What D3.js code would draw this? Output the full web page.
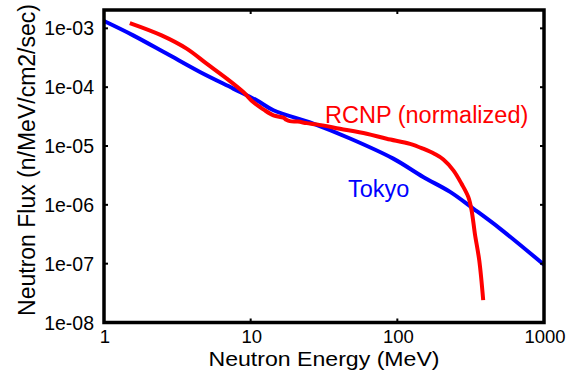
<!DOCTYPE html>
<html>
<head>
  <meta charset="utf-8">
  <title>Neutron Flux</title>
  <style>
    body { margin: 0; background: #fff; }
    text { font-family: "Liberation Sans", Arial, Helvetica, sans-serif; }
  </style>
</head>
<body>
<svg width="579" height="375"></svg>
<script src="https://d3js.org/d3.v7.min.js"></script>
<script>

// energies (MeV) and fluxes (n/MeV/cm2/sec)
var tokyoE = [1.0, 1.58, 2.67, 4.51, 7.61, 11.0, 14.3, 26.7, 47.6, 93.8, 150, 229, 329, 501, 1000];
var tokyoF = [1.33e-3, 7.6e-4, 3.72e-4, 1.81e-4, 9.46e-5, 5.98e-5, 4.05e-5, 2.40e-5, 1.34e-5, 6.1e-6, 2.98e-6, 1.66e-6, 8.65e-7, 3.95e-7, 9.6e-8];

var rcnpE = [1.50, 2.47, 3.66, 5.01, 6.87, 8.91, 10.4, 12.2, 14.3, 16.7, 17.5, 18.5, 21, 24.1, 28.2, 40.6, 61.8, 84.6, 122, 150, 180, 206, 241, 274, 305, 321, 338, 362, 385];
var rcnpF = [1.23e-3, 7.6e-4, 4.52e-4, 2.51e-4, 1.40e-4, 8.27e-5, 5.58e-5, 4.2e-5, 3.31e-5, 3.03e-5, 2.8e-5, 2.65e-5, 2.6e-5, 2.45e-5, 2.33e-5, 1.97e-5, 1.62e-5, 1.33e-5, 1.09e-5, 9.0e-6, 7.3e-6, 5.9e-6, 3.85e-6, 2.28e-6, 1.35e-6, 8.0e-7, 3.2e-7, 1.13e-7, 2.4e-8];

var xTicks = [1, 10, 100, 1000];
var yTicks = [1e-8, 1e-7, 1e-6, 1e-5, 1e-4, 1e-3];
var yTickLabels = ["1e-08", "1e-07", "1e-06", "1e-05", "1e-04", "1e-03"];

var svg = d3.select("svg");

// plot box (x0,y0 top-left, x1,y1 bottom-right)
var x0 = 104, x1 = 544, y0 = 10, y1 = 322.5;

var x = d3.scaleLog().domain([1, 1000]).range([x0, x1]);
var y = d3.scaleLog().domain([1e-8, 2.05e-3]).range([y1, y0]);

var line = d3.line()
    .x(function(d) { return x(d[0]); })
    .y(function(d) { return y(d[1]); })
    .curve(d3.curveCatmullRom);

svg.append("path")
    .datum(d3.zip(tokyoE, tokyoF))
    .attr("d", line)
    .attr("fill", "none")
    .attr("stroke", "#0000ff")
    .attr("stroke-width", 4);

svg.append("path")
    .datum(d3.zip(rcnpE, rcnpF))
    .attr("d", line)
    .attr("fill", "none")
    .attr("stroke", "#ff0000")
    .attr("stroke-width", 4);

// ticks, inward on all four sides
var tickLen = 4;
var ticks = svg.append("g").attr("stroke", "#000").attr("stroke-width", 2);
xTicks.forEach(function(t) {
  ticks.append("line").attr("x1", x(t)).attr("x2", x(t)).attr("y1", y1).attr("y2", y1 - tickLen);
  ticks.append("line").attr("x1", x(t)).attr("x2", x(t)).attr("y1", y0).attr("y2", y0 + tickLen);
});
yTicks.forEach(function(t) {
  ticks.append("line").attr("x1", x0).attr("x2", x0 + tickLen).attr("y1", y(t)).attr("y2", y(t));
  ticks.append("line").attr("x1", x1).attr("x2", x1 - tickLen).attr("y1", y(t)).attr("y2", y(t));
});

// frame
svg.append("rect")
    .attr("x", x0).attr("y", y0)
    .attr("width", x1 - x0).attr("height", y1 - y0)
    .attr("fill", "none")
    .attr("stroke", "#000")
    .attr("stroke-width", 3.5);

// tick labels
svg.append("g").selectAll("text")
    .data(xTicks)
    .enter().append("text")
    .attr("x", function(d) { return x(d) + 1; })
    .attr("y", 343)
    .attr("text-anchor", "middle")
    .attr("font-size", 18.5)
    .text(function(d) { return d; });

svg.append("g").selectAll("text")
    .data(yTicks)
    .enter().append("text")
    .attr("x", 94)
    .attr("y", function(d) { return y(d) + 7; })
    .attr("text-anchor", "end")
    .attr("font-size", 19.5)
    .text(function(d, i) { return yTickLabels[i]; });

// axis titles
svg.append("text")
    .attr("transform", "translate(324,366) scale(1.1,1)")
    .attr("text-anchor", "middle")
    .attr("font-size", 21)
    .text("Neutron Energy (MeV)");

svg.append("text")
    .attr("transform", "translate(35,160) rotate(-90)")
    .attr("text-anchor", "middle")
    .attr("font-size", 23)
    .text("Neutron Flux (n/MeV/cm2/sec)");

// curve labels
svg.append("text")
    .attr("x", 325)
    .attr("y", 123)
    .attr("font-size", 23.5)
    .attr("fill", "#ff0000")
    .text("RCNP (normalized)");

svg.append("text")
    .attr("x", 348)
    .attr("y", 197)
    .attr("font-size", 23.5)
    .attr("fill", "#0000ff")
    .text("Tokyo");

</script>
</body>
</html>
